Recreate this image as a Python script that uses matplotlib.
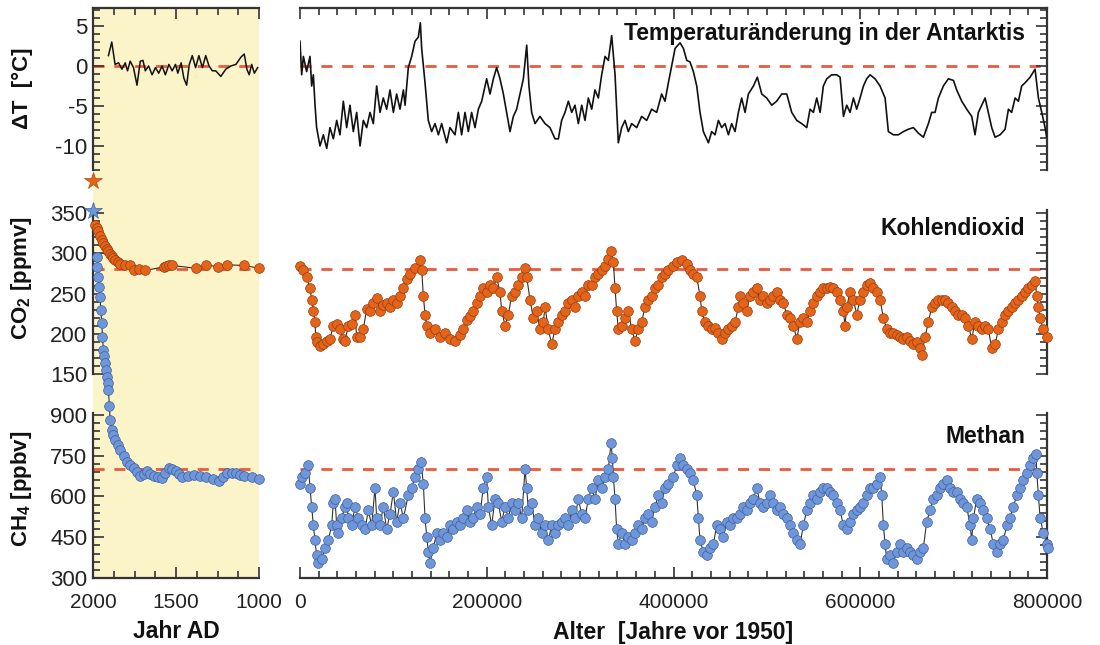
import matplotlib
matplotlib.use("Agg")
import numpy as np
import matplotlib.pyplot as plt
from matplotlib.ticker import MultipleLocator

plt.rcParams['font.family'] = ['Liberation Sans', 'DejaVu Sans']
plt.rcParams['mathtext.fontset'] = 'custom'
plt.rcParams['mathtext.rm'] = 'Liberation Sans'
plt.rcParams['mathtext.bf'] = 'Liberation Sans:bold'
plt.rcParams['axes.unicode_minus'] = False

# ---------------- Daten: letzte 1000 Jahre (Jahr AD) ----------------
temp_year_ad = [1907, 1887, 1867, 1846, 1826, 1806, 1792, 1776, 1756, 1735, 1715, 1699, 1685,
                1665, 1644, 1624, 1604, 1584, 1564, 1543, 1523, 1503, 1489, 1469, 1453, 1436,
                1420, 1402, 1382, 1362, 1341, 1321, 1301, 1281, 1261, 1230, 1200, 1170, 1139,
                1109, 1089, 1073, 1059, 1044, 1028, 1008]
temp_recent = [1.3, 3.0, 0.2, 0.4, -0.4, 0.4, -0.6, 0.6, -0.2, -2.4, 0.6, 0.7, -0.6,
               0.0, -1.1, -0.2, -0.9, 0.0, -1.1, 0.2, -0.6, 0.2, -0.9, 0.4, -1.5, -2.4,
               0.2, 1.3, -0.2, 1.3, -0.2, 1.3, 0.0, -0.6, -0.6, -1.3, -0.4, 0.0, 0.2,
               1.1, 1.5, -0.4, -1.1, 0.2, -0.9, -0.2]

co2_year_ad = [1988, 1978, 1968, 1957, 1947, 1937, 1927, 1917, 1907, 1897, 1887, 1877, 1867,
               1851, 1836, 1806, 1776, 1756, 1725, 1685, 1574, 1559, 1544, 1523, 1382,
               1321, 1246, 1190, 1093, 998]
co2_recent = [335.6, 331.0, 327.3, 322.0, 317.0, 312.5, 308.8, 305.5, 302.6, 299.0, 296.4,
              294.0, 292.3, 289.5, 287.4, 286.2, 285.0, 279.1, 280.0, 278.8, 283.3, 284.0,
              285.0, 285.0, 281.6, 285.8, 283.3, 285.8, 285.0, 281.6]

ch4_year_ad = [1978, 1974, 1968, 1964, 1958, 1953, 1947, 1943, 1937, 1932, 1927, 1922, 1917,
               1912, 1907, 1901, 1897, 1887, 1877, 1867, 1850, 1836, 1816, 1796, 1776, 1756,
               1735, 1715, 1695, 1675, 1655, 1634, 1610, 1584, 1564, 1544, 1523, 1503, 1482,
               1462, 1430, 1392, 1356, 1321, 1280, 1240, 1215, 1190, 1165, 1139, 1115, 1089,
               1045, 998]
ch4_recent = [1482, 1445, 1408, 1372, 1335, 1286, 1237, 1188, 1139, 1115, 1090, 1066, 1041,
              1016, 992, 931, 882, 845, 826, 808, 790, 771, 750, 728, 716, 704,
              690, 676, 684, 692, 684, 676, 672, 667, 686, 704, 700, 695, 683,
              671, 676, 679, 675, 671, 664, 658, 672, 688, 686, 688, 680, 676,
              672, 664]

co2_today = 390
ch4_today = 1650

# ---------------- Daten: Eisbohrkern (Alter in 1000 Jahren vor 1950) ----------------
temp_age_ka = [0.0, 1.8, 3.6, 7.1, 10.7, 12.5, 14.3, 16.1, 17.8, 21.4, 25.0, 28.6, 32.1, 35.7,
               39.3, 42.8, 46.4, 50.0, 53.5, 57.1, 60.7, 64.3, 67.8, 71.4, 75.0, 78.5, 82.1,
               85.7, 89.2, 92.8, 96.4, 100.0, 103.5, 107.1, 110.7, 112.5, 116.0, 119.6, 123.2,
               126.7, 128.9, 130.3, 133.9, 137.4, 141.0, 144.6, 148.2, 151.7, 157.1, 160.6,
               166.0, 169.6, 173.1, 176.7, 180.3, 183.8, 187.4, 191.0, 194.6, 199.9, 203.5,
               207.1, 210.6, 214.2, 217.8, 221.3, 224.9, 228.5, 232.0, 235.6, 239.2, 242.8,
               245.2, 248.1, 251.7, 257.0, 262.4, 267.7, 273.1, 276.7, 280.2, 283.8, 287.4,
               291.0, 294.5, 298.1, 301.7, 305.2, 308.8, 312.4, 315.9, 319.5, 323.1, 326.7,
               330.2, 333.8, 337.4, 340.9, 344.5, 348.1, 351.6, 355.2, 360.6, 365.9, 371.3,
               376.6, 382.0, 387.3, 390.9, 394.5,
               401.7, 407.0, 410.6, 414.2, 417.7, 421.3, 424.9, 428.4, 432.0, 437.4, 440.9,
               444.5, 448.1, 451.6, 455.2, 458.8, 462.3, 465.9, 469.5, 473.0, 476.6, 480.2,
               485.6, 489.8, 494.5, 499.8, 505.2, 510.5, 515.9, 521.3, 526.6, 532.0, 537.3,
               542.7, 546.2, 549.8, 553.4, 557.0, 560.5, 564.1, 569.4, 574.8, 578.4, 582.0,
               585.5, 589.1, 592.7, 596.2, 599.8, 603.4, 606.9, 610.5, 615.9, 621.2, 626.6,
               630.1, 635.5, 640.8, 646.2, 651.6, 656.9, 662.3, 667.6, 673.0, 676.5, 680.1,
               683.7, 689.0, 694.4, 699.8, 703.3, 708.7, 714.0, 719.4, 722.9, 726.5, 730.1,
               733.7, 737.2, 740.8, 744.4, 749.7, 755.1, 758.7, 762.2, 765.8, 769.4, 772.9,
               776.5, 781.9, 787.2, 790.8, 794.4, 797.9, 799.7]
temp_core = [3.1, -1.1, 1.2, -0.7, 1.2, -2.5, -1.1, -4.9, -7.7, -10.0, -8.6, -10.3, -7.7, -9.1,
             -6.8, -8.6, -4.4, -7.7, -4.9, -8.2, -5.8, -10.0, -6.8, -7.7, -5.8, -7.2, -2.5,
             -5.8, -4.0, -5.4, -3.0, -5.8, -3.5, -5.4, -3.0, -4.9, -0.2, 1.2, 3.1,
             3.6, 5.4, 2.2, -2.1, -6.8, -8.2, -7.2, -8.6, -7.2, -9.6, -7.7,
             -8.6, -5.8, -8.6, -5.8, -8.2, -5.8, -7.7, -5.4, -4.4, -1.6, -3.5,
             -1.6, -0.2, -1.6, -3.5, -5.8, -8.2, -6.3, -5.4, -3.5, -1.6, 2.6,
             -2.5, -5.8, -7.2, -6.3, -7.2, -7.7, -9.1, -9.1, -6.8, -5.8, -4.4,
             -5.8, -4.9, -7.2, -4.9, -6.8, -4.0, -5.4, -3.0, -4.0, -1.1, 1.2,
             0.7, 3.8, -1.1, -9.6, -7.7, -6.8, -8.2, -7.2, -7.7, -6.3, -6.8,
             -5.4, -5.8, -3.5, -4.4, -2.1,
             2.2, 2.9, 2.2, 0.7, 0.5, -0.7, -2.5, -5.8, -8.2, -9.6, -8.2,
             -8.6, -6.8, -7.7, -7.2, -8.6, -7.2, -8.2, -5.8, -4.0, -5.8, -3.5,
             -2.5, -1.4, -3.5, -4.0, -4.9, -4.4, -3.5, -3.5, -5.8, -6.8, -7.2,
             -7.7, -5.4, -5.8, -4.0, -5.8, -2.5, -1.6, -1.1, -1.1, -1.4, -6.3,
             -4.9, -5.8, -4.0, -5.4, -4.0, -2.5, -1.6, -1.1, -1.6, -2.5, -4.0,
             -8.2, -8.6, -8.6, -8.2, -7.9, -7.7, -8.4, -8.9, -7.2, -5.8, -5.8,
             -4.0, -2.5, -1.6, -1.8, -3.0, -4.4, -5.4, -6.3, -8.6, -5.8, -4.9,
             -4.0, -5.8, -7.7, -8.9, -8.6, -7.9, -5.4, -5.8, -4.0, -4.4, -2.5,
             -2.1, -1.4, -0.4, -4.0, -5.8, -7.7, -8.9]

co2_age_ka = [0.0, 3.6, 7.1, 10.7, 12.5, 14.3, 16.1, 16.8, 17.8, 21.4, 25.0, 28.6, 32.1, 35.7,
              39.3, 42.8, 46.4, 48.2, 51.8, 55.3, 58.9, 60.7, 64.3, 67.8, 71.4, 75.0, 78.5,
              82.1, 85.7, 89.2, 92.8, 96.4, 100.0, 103.5, 107.1, 110.7, 114.2, 117.8, 123.2,
              128.5, 130.3, 132.1, 133.9, 135.7, 139.2, 144.6, 150.0, 155.3, 160.6, 166.0,
              171.4, 174.9, 178.5, 182.1, 185.6, 189.2, 192.8, 196.3, 199.9, 203.5, 207.1,
              210.6, 214.2, 216.0, 219.6, 223.1, 226.7, 230.3, 233.8, 237.4, 241.0, 242.8,
              246.3, 249.9, 253.5, 257.0, 260.6, 262.4, 266.0, 269.5, 273.1, 276.7, 280.2,
              283.8, 287.4, 291.0, 294.5, 298.1, 301.7, 305.2, 308.8, 312.4, 315.9, 319.5,
              323.1, 326.7, 330.2, 333.1, 335.6, 337.4, 339.1, 340.9, 344.5, 348.1, 351.6,
              355.2, 358.8, 362.3, 365.9, 369.5, 373.1, 376.6, 380.2, 383.8, 387.3, 390.9,
              394.5, 399.9, 403.4, 408.8, 414.2, 417.7, 421.3, 424.9, 428.4, 430.2, 433.8,
              437.4, 440.9, 444.5, 448.1, 451.6, 455.2, 458.8, 462.3, 465.9, 469.5, 471.3,
              474.8, 478.4, 482.0, 485.6, 489.1, 492.7, 496.3, 499.8, 503.4, 507.0, 510.5,
              514.1, 517.7, 521.3, 524.8, 528.4, 532.0, 535.5, 539.1, 542.7, 546.2, 549.8,
              553.4, 556.9, 560.5, 564.1, 567.7, 571.2, 574.8, 578.4, 581.9, 583.7, 585.5,
              589.1, 592.7, 596.2, 599.8, 603.4, 606.9, 610.5, 614.1, 617.6, 621.2, 624.8,
              628.4, 631.9, 635.5, 639.1, 642.6, 646.2, 649.8, 653.3, 656.9, 660.5, 664.1,
              665.8, 669.4, 673.0, 676.5, 680.1, 683.7, 687.3, 690.8, 694.4, 698.0, 701.5,
              705.1, 708.7, 712.2, 715.8, 719.4, 722.9, 726.5, 730.1, 733.7, 737.2, 740.8,
              744.4, 748.0, 751.5, 755.1, 758.7, 762.2, 765.8, 769.4, 772.9, 776.5, 780.1,
              783.6, 787.2, 789.0, 790.8, 792.6, 796.1, 799.7]
co2_core = [284.3, 279.7, 270.4, 256.5, 242.6, 228.7, 214.8, 196.2, 189.3, 184.7, 187.0, 191.6,
            193.9, 210.1, 212.5, 205.5, 193.9, 191.6, 210.1, 212.5, 224.0, 196.2, 196.2, 205.5,
            231.0, 228.7, 237.9, 244.9, 228.7, 235.6, 237.9, 233.3, 242.6, 237.9, 247.2, 256.5,
            268.1, 275.0, 282.0, 291.2, 279.7, 247.2, 224.0, 210.1, 200.9, 205.5, 196.2, 200.9,
            193.9, 191.6, 198.6, 205.5, 217.1, 221.7, 228.7, 237.9, 247.2, 256.5, 251.8, 261.1,
            256.5, 270.4, 251.8, 228.7, 210.1, 224.0, 247.2, 251.8, 261.1, 270.4, 282.0, 270.4,
            242.6, 219.4, 228.7, 205.5, 214.8, 233.3, 205.5, 187.0, 205.5, 214.8, 224.0, 228.7,
            237.9, 242.6, 233.3, 247.2, 251.8, 247.2, 261.1, 261.1, 270.4, 275.0, 279.7, 284.3,
            293.6, 302.8, 289.0, 256.5, 228.7, 205.5, 210.1, 219.4, 228.7, 205.5, 191.6, 205.5,
            214.8, 233.3, 242.6, 247.2, 256.5, 261.1, 270.4, 275.0, 279.7, 284.3, 288.9, 291.2,
            286.6, 279.7, 275.0, 270.4, 247.2, 228.7, 214.8, 210.1, 205.5, 207.8, 200.9, 193.9,
            200.9, 205.5, 210.1, 214.8, 233.3, 247.2, 237.9, 228.7, 247.2, 251.8, 256.5, 242.6,
            247.2, 237.9, 242.6, 247.2, 251.8, 242.6, 237.9, 224.0, 219.4, 210.1, 193.9, 214.8,
            219.4, 214.8, 228.7, 237.9, 247.2, 251.8, 256.5, 256.5, 258.8, 256.5, 251.8, 242.6,
            228.7, 210.1, 233.3, 251.8, 242.6, 224.0, 242.6, 251.8, 261.1, 263.4, 256.5, 251.8,
            242.6, 219.4, 205.5, 200.9, 200.9, 198.6, 196.2, 193.9, 196.2, 191.6, 187.0, 189.3,
            182.3, 173.1, 196.2, 214.8, 233.3, 237.9, 242.6, 242.6, 242.6, 237.9, 233.3, 228.7,
            224.0, 224.0, 219.4, 210.1, 193.9, 214.8, 210.1, 205.5, 210.1, 205.5, 182.3, 187.0,
            205.5, 214.8, 224.0, 228.7, 233.3, 237.9, 242.6, 247.2, 251.8, 256.5, 261.1, 265.8,
            247.2, 233.3, 219.4, 205.5, 196.2]

ch4_age_ka = [0.3, 1.8, 5.4, 8.9, 10.7, 12.5, 14.3, 16.1, 17.8, 19.6, 23.2, 26.8, 30.3, 33.9,
              35.7, 37.5, 39.3, 41.1, 44.6, 48.2, 50.0, 51.8, 55.3, 58.9, 62.5, 66.0, 69.6,
              73.2, 76.7, 80.3, 82.1, 85.7, 89.2, 92.8, 96.4, 100.0, 103.5, 107.1, 110.7,
              116.0, 119.6, 123.2, 126.7, 129.6, 132.1, 133.9, 135.7, 137.4, 139.2, 142.8,
              146.4, 150.0, 153.5, 157.1, 160.6, 164.2, 167.8, 171.4, 174.9, 178.5, 182.1,
              185.6, 189.2, 192.8, 196.3, 199.9, 201.7, 205.3, 208.8, 212.4, 216.0, 219.6,
              223.1, 226.7, 230.3, 233.8, 237.4, 241.0, 242.8, 244.5, 248.1, 251.7, 255.3,
              258.8, 262.4, 266.0, 269.5, 273.1, 276.7, 280.2, 283.8, 287.4, 291.0, 294.5,
              298.1, 301.7, 305.2, 308.8, 312.4, 315.9, 319.5, 323.1, 326.7, 330.2, 333.1,
              334.5, 335.6, 337.4, 339.1, 340.9, 344.5, 348.1, 351.6, 355.2, 358.8, 362.3,
              365.9, 369.5, 373.1, 376.6, 380.2, 383.8, 387.3, 390.9, 394.5,
              399.9, 403.4, 407.0, 410.6, 414.2, 417.7, 421.3, 424.9, 426.6, 428.4, 432.0,
              435.6, 439.1, 442.7, 446.3, 449.9, 453.4, 457.0, 460.6, 464.1, 467.7, 471.3,
              474.8, 478.4, 482.0, 485.6, 489.1, 492.7, 496.3, 499.8, 503.4, 507.0, 510.5,
              514.1, 517.7, 521.3, 524.8, 528.4, 532.0, 535.5, 539.1, 542.7, 546.2, 549.8,
              553.4, 556.9, 560.5, 564.1, 567.7, 571.2, 574.8, 578.4, 581.9, 585.5, 589.1,
              592.7, 596.2, 599.8, 603.4, 606.9, 610.5, 614.1, 617.6, 621.2, 623.0, 624.8,
              626.6, 628.4, 631.9, 635.5, 639.1, 642.6, 646.2, 649.8, 653.3, 656.9, 660.5,
              664.1, 667.6, 671.2, 674.8, 678.3, 681.9, 685.5, 689.0, 692.6, 696.2, 699.8,
              703.3, 706.9, 710.5, 714.0, 717.6, 719.4, 721.2, 724.7, 728.3, 731.9, 735.5,
              739.0, 742.6, 746.2, 749.7, 753.3, 756.9, 760.4, 764.0, 767.6, 771.2, 774.7,
              778.3, 781.9, 785.4, 788.3, 789.0, 790.8, 792.6, 796.1, 799.7, 801.0]
ch4_core = [645.5, 673.1, 686.9, 714.5, 631.7, 562.7, 493.7, 438.5, 383.3, 355.7, 369.5, 410.9,
            438.5, 493.7, 576.5, 590.3, 493.7, 466.1, 521.3, 562.7, 576.5, 521.3, 493.7, 562.7,
            521.3, 493.7, 479.9, 548.9, 493.7, 631.7, 521.3, 493.7, 562.7, 479.9, 535.1, 617.9,
            507.5, 576.5, 521.3, 604.1, 631.7, 673.1, 700.7, 728.3, 645.5, 521.3, 452.3, 397.1,
            355.7, 410.9, 466.1, 438.5, 466.1, 452.3, 493.7, 479.9, 507.5, 493.7, 521.3, 548.9,
            507.5, 521.3, 562.7, 535.1, 631.7, 673.1, 562.7, 493.7, 590.3, 576.5, 507.5, 562.7,
            521.3, 576.5, 548.9, 576.5, 521.3, 700.7, 631.7, 548.9, 576.5, 493.7, 521.3, 466.1,
            493.7, 438.5, 493.7, 466.1, 493.7, 507.5, 521.3, 493.7, 548.9, 521.3, 590.3, 535.1,
            521.3, 590.3, 631.7, 590.3, 659.3, 631.7, 673.1, 700.7, 797.3, 742.1, 673.1, 590.3,
            479.9, 424.7, 466.1, 424.7, 452.3, 438.5, 466.1, 493.7, 479.9, 521.3, 535.1, 507.5,
            562.7, 604.1, 576.5, 631.7, 645.5,
            673.1, 714.5, 742.1, 714.5, 700.7, 686.9, 659.3, 604.1, 521.3, 438.5, 397.1,
            383.3, 410.9, 424.7, 493.7, 479.9, 452.3, 507.5, 493.7, 521.3, 521.3, 535.1,
            562.7, 548.9, 576.5, 590.3, 631.7, 576.5, 562.7, 576.5, 604.1, 576.5, 548.9,
            562.7, 535.1, 521.3, 493.7, 466.1, 438.5, 424.7, 493.7, 548.9, 576.5, 604.1,
            590.3, 617.9, 631.7, 631.7, 617.9, 604.1, 576.5, 548.9, 493.7, 479.9, 507.5,
            535.1, 548.9, 562.7, 576.5, 604.1, 631.7, 631.7, 645.5, 673.1, 604.1, 493.7,
            424.7, 369.5, 383.3, 355.7, 397.1, 424.7, 397.1, 410.9, 397.1, 383.3, 369.5,
            397.1, 410.9, 507.5, 548.9, 590.3, 604.1, 631.7, 645.5, 659.3, 631.7, 617.9,
            617.9, 590.3, 576.5, 562.7, 493.7, 438.5, 521.3, 590.3, 576.5, 548.9, 521.3,
            479.9, 424.7, 397.1, 424.7, 438.5, 493.7, 521.3, 562.7, 604.1, 631.7, 659.3,
            686.9, 714.5, 742.1, 755.9, 686.9, 604.1, 521.3, 466.1, 424.7, 410.9]

# ---------------- Layout ----------------
W, H = 1100, 645


def box(x0, y0, x1, y1):
    # Pixelrahmen -> Figurenkoordinaten
    return [x0 / W, 1 - y1 / H, (x1 - x0) / W, (y1 - y0) / H]


spine_c = '#333333'
red = '#ec5a3c'
orange = '#e4641a'
blue = '#6e96d8'
yellow = '#fbf4c9'

fig = plt.figure(figsize=(W / 100, H / 100), dpi=100)

# Hintergrund-Achsen (gemeinsame x-Achsen)
bg_l = fig.add_axes(box(93, 8, 259, 578), facecolor=yellow, zorder=0)
bg_r = fig.add_axes(box(300, 8, 1047, 578), facecolor='white', zorder=0)
bg_l.set_xlim(2000, 1000)
bg_r.set_xlim(0, 800000)
bg_l.xaxis.set_major_locator(MultipleLocator(500))
bg_l.xaxis.set_minor_locator(MultipleLocator(125))
bg_r.xaxis.set_major_locator(MultipleLocator(200000))
bg_r.xaxis.set_minor_locator(MultipleLocator(20000))
for ax in (bg_l, bg_r):
    ax.set_yticks([])
    for s in ('left', 'right'):
        ax.spines[s].set_visible(False)
    for s in ('top', 'bottom'):
        ax.spines[s].set_color(spine_c)
        ax.spines[s].set_linewidth(1.6)
    ax.tick_params(axis='x', which='both', direction='in', top=True, bottom=True,
                   colors=spine_c, width=1.2, labelsize=15, labelcolor='#222222', pad=11)
    ax.tick_params(axis='x', which='major', length=8)
    ax.tick_params(axis='x', which='minor', length=5)

# Zeilen: (Pixel oben, Pixel unten, ylim, Hauptticks, Nebenticks, Referenzwert)
rows = [
    (8, 170, (-13.0, 7.25), 5, 1, 0),
    (210, 374, (150, 354), 50, 10, 280),
    (413, 578, (300, 907), 150, 30, 700),
]

axes_l, axes_r = [], []
for top, bot, ylim, major, minor, ref in rows:
    al = fig.add_axes(box(93, top, 259, bot), facecolor='none', zorder=2)
    ar = fig.add_axes(box(300, top, 1047, bot), facecolor='none', zorder=2)
    al.set_xlim(2000, 1000)
    ar.set_xlim(0, 800000)
    for ax, side in ((al, 'left'), (ar, 'right')):
        ax.set_ylim(*ylim)
        for s in ('left', 'right', 'top', 'bottom'):
            ax.spines[s].set_visible(s == side)
        ax.spines[side].set_color(spine_c)
        ax.spines[side].set_linewidth(1.6)
        ax.yaxis.set_major_locator(MultipleLocator(major))
        ax.yaxis.set_minor_locator(MultipleLocator(minor))
        ax.tick_params(axis='x', which='both', bottom=False, top=False, labelbottom=False)
        ax.tick_params(axis='y', which='both', direction='in', colors=spine_c, width=1.2,
                       left=(side == 'left'), right=(side == 'right'),
                       labelleft=(side == 'left'), labelright=False,
                       labelsize=16, labelcolor='#222222', pad=4)
        ax.tick_params(axis='y', which='major', length=8)
        ax.tick_params(axis='y', which='minor', length=5)
        ax.axhline(ref, color=red, lw=2, ls=(0, (4, 3.5)), zorder=1)
    axes_l.append(al)
    axes_r.append(ar)

# Temperatur
axes_l[0].plot(temp_year_ad, temp_recent, color='#111111', lw=1.1, zorder=3, clip_on=False)
axes_r[0].plot(np.array(temp_age_ka) * 1000, temp_core, color='#111111', lw=1.2, zorder=3)

# CO2
mk = dict(marker='o', ms=7, lw=0.8, zorder=3, clip_on=False)
axes_l[1].plot(co2_year_ad, co2_recent, color='#3a2a20', mfc=orange, mec='#9a3c0c', mew=0.5, **mk)
axes_r[1].plot(np.array(co2_age_ka) * 1000, co2_core, color='#3a2a20', mfc=orange,
               mec='#9a3c0c', mew=0.5, **mk)

# CH4
axes_l[2].plot(ch4_year_ad, ch4_recent, color='#333333', mfc=blue, mec='#3d5fa0', mew=0.5, **mk)
axes_r[2].plot(np.array(ch4_age_ka) * 1000, ch4_core, color='#333333', mfc=blue,
               mec='#3d5fa0', mew=0.5, **mk)

# heutige Werte (Sterne)
axes_l[1].plot([2000], [co2_today], marker='*', ms=13, color=orange, mec='#b04a10', mew=0.5,
               clip_on=False, zorder=4, ls='none')
axes_l[2].plot([2000], [ch4_today], marker='*', ms=13, color=blue, mec='#3d5fa0', mew=0.5,
               clip_on=False, zorder=4, ls='none')

# Titel in den Feldern
titles = ['Temperaturänderung in der Antarktis', 'Kohlendioxid', 'Methan']
title_y = [0.845, 0.89, 0.855]
for ax, t, ty in zip(axes_r, titles, title_y):
    ax.text(0.9705, ty, t, transform=ax.transAxes, ha='right', va='center',
            fontsize=16.5, fontweight='bold', color='#111111')

# Achsenbeschriftungen
ylab = dict(rotation=90, ha='center', va='center', fontsize=16, fontweight='bold', color='#111111')
fig.text(22 / W, 1 - 88 / H, 'ΔT  [°C]', **ylab)
fig.text(22 / W, 1 - 278 / H, r'CO$_\mathbf{2}$ [ppmv]', **ylab)
fig.text(22 / W, 1 - 489 / H, r'CH$_\mathbf{4}$ [ppbv]', **ylab)
fig.text(176 / W, 1 - 632 / H, 'Jahr AD', ha='center', va='center', fontsize=16.5,
         fontweight='bold', color='#111111')
fig.text(673 / W, 1 - 632 / H, 'Alter  [Jahre vor 1950]', ha='center', va='center',
         fontsize=16.5, fontweight='bold', color='#111111')

fig.savefig('out.png', dpi=100)
